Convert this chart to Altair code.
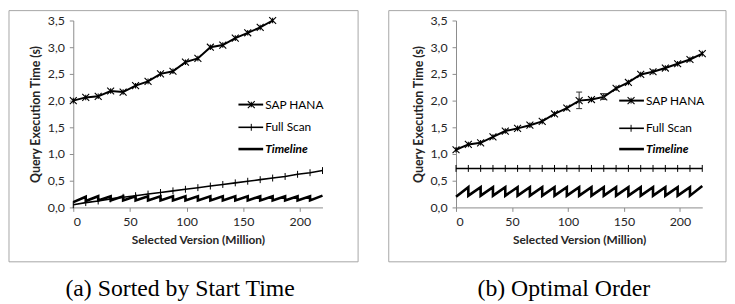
import altair as alt
import pandas as pd

# ---------------- data ----------------
sap_a_x = [0, 11, 22, 33, 44, 55, 66, 77, 88, 99, 110, 121, 132, 143, 154, 165, 176]
sap_a_y = [2.00, 2.06, 2.08, 2.18, 2.16, 2.28, 2.36, 2.50, 2.55, 2.72, 2.79, 3.00, 3.04, 3.17, 3.27, 3.37, 3.50]

full_x = [0, 11, 22, 33, 44, 55, 66, 77, 88, 99, 110, 121, 132, 143, 154, 165, 176, 187, 198, 209, 220]
full_a_y = [0.05, 0.09, 0.12, 0.16, 0.19, 0.22, 0.25, 0.28, 0.31, 0.34, 0.37, 0.40, 0.43, 0.46, 0.49,
            0.52, 0.55, 0.58, 0.62, 0.65, 0.69]
full_b_y = [0.73, 0.73, 0.73, 0.73, 0.73, 0.73, 0.73, 0.73, 0.73, 0.73, 0.73, 0.73, 0.73, 0.73, 0.73,
            0.73, 0.73, 0.73, 0.73, 0.73, 0.73]

sap_b_x = [0, 11, 22, 33, 44, 55, 66, 77, 88, 99, 110, 121, 132, 143, 154, 165, 176, 187, 198, 209, 220]
sap_b_y = [1.08, 1.18, 1.21, 1.32, 1.43, 1.48, 1.54, 1.61, 1.75, 1.86, 2.00, 2.02, 2.07, 2.23, 2.34,
           2.49, 2.54, 2.61, 2.69, 2.77, 2.88]

err_b_x = [110, 132]
err_b_lo = [1.85, 2.02]
err_b_hi = [2.16, 2.13]

tl_x = [0, 11, 22, 33, 44, 55, 66, 77, 88, 99, 110, 121, 132, 143, 154, 165, 176, 187, 198, 209, 220]
tl_a_low = [0.10, 0.12, 0.13, 0.13, 0.13, 0.13, 0.13, 0.13, 0.13, 0.13,
            0.13, 0.13, 0.13, 0.13, 0.13, 0.13, 0.13, 0.13, 0.13, 0.13]
tl_a_high = [0.20, 0.21, 0.21, 0.21, 0.21, 0.21, 0.21, 0.21, 0.21, 0.21,
             0.21, 0.21, 0.21, 0.21, 0.21, 0.21, 0.21, 0.21, 0.21, 0.22]
tl_b_low = [0.20, 0.22, 0.22, 0.22, 0.22, 0.22, 0.22, 0.22, 0.22, 0.22,
            0.22, 0.22, 0.22, 0.22, 0.22, 0.22, 0.22, 0.22, 0.22, 0.22]
tl_b_high = [0.38, 0.38, 0.38, 0.38, 0.38, 0.38, 0.38, 0.38, 0.38, 0.38,
             0.38, 0.38, 0.38, 0.38, 0.38, 0.38, 0.38, 0.38, 0.38, 0.40]

x_ticks = [0, 50, 100, 150, 200]
y_ticks = [0, 0.5, 1.0, 1.5, 2.0, 2.5, 3.0, 3.5]

series_names = ["SAP HANA", "Full Scan", "Timeline"]
captions = ["(a) Sorted by Start Time", "(b) Optimal Order"]

# ---------------- styling ----------------
FONT = "Lato"
GREY = "#8c8c8c"
TXT = "#262626"
XPATH = "M-1,-1L1,1M-1,1L1,-1M0,-0.8L0,0.8"
PLUS = "M0,-1L0,1"


def timeline_df(low, high):
    rows = []
    for k in range(len(low)):
        rows.append({"x": tl_x[k], "y": low[k], "o": 2 * k})
        rows.append({"x": tl_x[k + 1], "y": high[k], "o": 2 * k + 1})
    return pd.DataFrame(rows)


def panel(sap_x, sap_y, full_y, tl_low, tl_high, w, legend, border, caption, err=None):
    xs = alt.Scale(domain=[0, 220], nice=False)
    ys = alt.Scale(domain=[0, 3.5], nice=False)
    X = alt.X("x:Q", scale=xs, axis=alt.Axis(
        values=x_ticks, title="Selected Version (Million)", grid=False, labelOverlap=False,
        domainColor=GREY, tickColor=GREY, tickSize=4, labelFont=FONT, labelFontSize=12.5,
        labelColor=TXT, labelPadding=4, titleFont=FONT, titleFontSize=12, titleFontWeight="bold",
        titleColor=TXT, titlePadding=7))
    Y = alt.Y("y:Q", scale=ys, axis=alt.Axis(
        values=y_ticks, title="Query Execution Time (s)", grid=False, labelOverlap=False,
        labelExpr="replace(format(datum.value, '.1f'), '.', ',')",
        domainColor=GREY, tickColor=GREY, tickSize=4, labelFont=FONT, labelFontSize=12.5,
        labelColor=TXT, labelPadding=5, titleFont=FONT, titleFontSize=12.5, titleFontWeight="bold",
        titleColor=TXT, titlePadding=5))

    sap = pd.DataFrame({"x": sap_x, "y": sap_y})
    full = pd.DataFrame({"x": full_x, "y": full_y})
    tl = timeline_df(tl_low, tl_high)

    layers = []
    layers.append(alt.Chart(tl).mark_line(color="black", strokeWidth=2.6).encode(
        x=X, y=Y, order="o:Q"))
    layers.append(alt.Chart(full).mark_line(color="black", strokeWidth=1.6).encode(x=X, y=Y))
    layers.append(alt.Chart(full).mark_point(shape=PLUS, size=49, filled=False, color="black",
                                              strokeWidth=1, opacity=1).encode(x=X, y=Y))
    layers.append(alt.Chart(sap).mark_line(color="black", strokeWidth=2).encode(x=X, y=Y))
    layers.append(alt.Chart(sap).mark_point(shape=XPATH, size=49, filled=False, color="black",
                                             strokeWidth=1.1, opacity=1).encode(x=X, y=Y))
    if err is not None:
        edf = pd.DataFrame({"x": err[0], "y": err[1], "y2": err[2]})
        caps = pd.DataFrame({"x": list(err[0]) + list(err[0]), "y": list(err[1]) + list(err[2])})
        layers.append(alt.Chart(edf).mark_rule(color="#333", strokeWidth=1).encode(
            x=X, y=Y, y2="y2:Q"))
        layers.append(alt.Chart(caps).mark_point(shape="M-1,0L1,0", size=36, filled=False,
                                                  color="#333", strokeWidth=1, opacity=1).encode(
            x=X, y=Y))

    # legend
    one = alt.Data(values=[{}])
    lx0, lx1, mx, tx, ly = legend
    widths = [2, 1.6, 2.6]
    for i, name in enumerate(series_names):
        layers.append(alt.Chart(one).mark_rule(color="black", strokeWidth=widths[i]).encode(
            x=alt.value(lx0), x2=alt.value(lx1), y=alt.value(ly[i])))
        if i == 0:
            layers.append(alt.Chart(one).mark_point(shape=XPATH, size=49, filled=False, color="black",
                                                     strokeWidth=1.1, opacity=1).encode(
                x=alt.value(mx), y=alt.value(ly[i])))
        if i == 1:
            layers.append(alt.Chart(one).mark_point(shape=PLUS, size=49, filled=False, color="black",
                                                     strokeWidth=1, opacity=1).encode(
                x=alt.value(mx), y=alt.value(ly[i])))
        layers.append(alt.Chart(one).mark_text(
            align="left", baseline="middle", font=FONT, fontSize=12, color="black",
            fontWeight="bold" if i == 2 else "normal",
            fontStyle="italic" if i == 2 else "normal").encode(
            x=alt.value(tx), y=alt.value(ly[i]), text=alt.value(name)))

    bx0, bx1, by0, by1 = border
    layers.append(alt.Chart(one).mark_rect(fillOpacity=0, stroke="#a6a6a6", strokeWidth=1).encode(
        x=alt.value(bx0), x2=alt.value(bx1), y=alt.value(by0), y2=alt.value(by1)))
    layers.append(alt.Chart(one).mark_text(
        align="center", baseline="middle", font="Liberation Serif", fontSize=24, color="black").encode(
        x=alt.value(caption[0]), y=alt.value(caption[1]), text=alt.value(caption[2])))

    return alt.layer(*layers).properties(width=w, height=189)


pa = panel(sap_a_x, sap_a_y, full_a_y, tl_a_low, tl_a_high, 252,
           (167, 192, 180, 194, [85, 108, 130]),
           (-65, 288, -10, 244), (108, 272, captions[0]))
pb = panel(sap_b_x, sap_b_y, full_b_y, tl_b_low, tl_b_high, 249,
           (165, 190, 177, 192, [81, 109, 130]),
           (-68, 273, -10, 244), (109, 272, captions[1]),
           err=(err_b_x, err_b_lo, err_b_hi))

chart = alt.hconcat(pa, pb, spacing=29).properties(padding=0).configure_view(strokeWidth=0)

chart.save("out.html", embed_options={"renderer": "svg", "actions": False})
